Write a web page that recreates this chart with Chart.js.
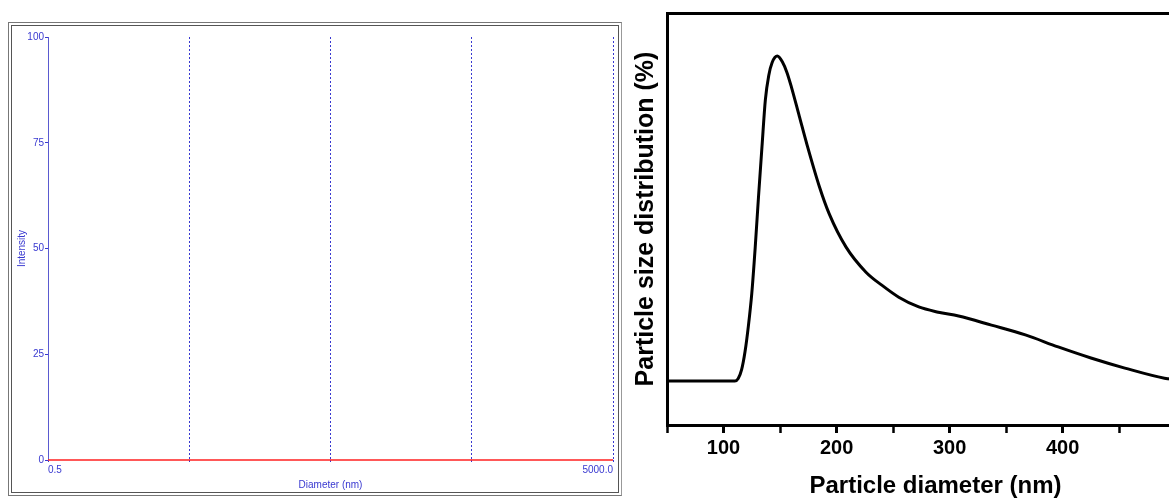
<!DOCTYPE html>
<html>
<head>
<meta charset="utf-8">
<script src="https://cdn.jsdelivr.net/npm/chart.js@4/dist/chart.umd.min.js"></script>
<style>
  body { margin: 0; width: 1169px; height: 501px; overflow: hidden; background: #fff; position: relative; }
  #frameOuter { position: absolute; left: 8px; top: 22px; width: 612px; height: 472px; border: 1px solid #777; border-right-color: #999; }
  #frameInner { position: absolute; left: 11px; top: 25px; width: 606px; height: 466px; border: 1px solid #555; }
  #left { position: absolute; left: 12px; top: 26px; }
  #right { position: absolute; left: 622px; top: 0px; }
</style>
</head>
<body>
<div id="frameOuter"></div>
<div id="frameInner"></div>
<canvas id="left" width="606" height="466"></canvas>
<canvas id="right" width="585" height="501"></canvas>
<script>
// left panel: empty intensity plot (log diameter axis)
const leftDiameters = [0.5, 5000];
const leftIntensity = [0, 0];
const leftXTicks = [0.5, 5, 50, 500, 5000];
const leftYTicks = [0, 25, 50, 75, 100];

// right panel: particle size distribution curve
const diameters = [50, 80, 100, 110, 113, 116, 119, 122, 125, 128, 131, 134, 137, 140, 143, 147.6,
  152, 156, 160, 167, 174, 184.6, 193.4, 208.4, 226, 240, 255, 272.7, 290, 307.9, 337, 367, 396, 425, 455, 490, 500];
const distribution = [0, 0, 0, 0, 0.8, 3.5, 9, 17, 27, 41, 57, 72, 86.5, 94, 98, 100,
  98.2, 95, 90.5, 81.5, 72.5, 60, 51.5, 41.2, 33.5, 29.5, 25.8, 22.8, 21.2, 20, 17.2, 14.2, 10.5, 7.1, 4.0, 0.9, 0.5];
const rightXTicks = [100, 200, 300, 400];

const blue = '#3838d0';
const smallFont = { family: 'Liberation Sans', size: 10 };

new Chart(document.getElementById('left').getContext('2d'), {
  type: 'line',
  data: {
    datasets: [{
      data: leftDiameters.map((d, i) => ({ x: d, y: leftIntensity[i] })),
      borderColor: '#ff2020',
      borderWidth: 1.5,
      pointRadius: 0,
      clip: false
    }]
  },
  options: {
    responsive: false,
    animation: false,
    layout: { padding: { left: 0, right: 5, top: 11, bottom: 0 } },
    plugins: { legend: { display: false }, tooltip: { enabled: false } },
    scales: {
      x: {
        type: 'logarithmic',
        min: 0.5,
        max: 5000,
        afterBuildTicks: scale => { scale.ticks = leftXTicks.map(v => ({ value: v })); },
        afterFit: scale => { scale.height = 32; },
        grid: { color: blue, lineWidth: 1, tickLength: 3, tickColor: blue, tickBorderDash: [2, 2] },
        border: { display: false, dash: [2, 2] },
        ticks: {
          autoSkip: false,
          maxRotation: 0,
          align: 'inner',
          padding: 1,
          color: blue,
          font: smallFont,
          callback: (v, i, ticks) => i === 0 ? '0.5' : (i === ticks.length - 1 ? '5000.0' : '')
        },
        title: { display: true, text: 'Diameter (nm)', color: blue, font: smallFont, padding: { top: 0, bottom: 1 } }
      },
      y: {
        min: 0,
        max: 100,
        afterBuildTicks: scale => { scale.ticks = leftYTicks.map(v => ({ value: v })); },
        afterFit: scale => { scale.width = 36; },
        grid: { drawOnChartArea: false, tickLength: 3, tickColor: blue },
        border: { color: '#5a5ad0', width: 1 },
        ticks: { color: blue, font: smallFont, padding: 1 },
        title: { display: true, text: 'Intensity', color: blue, font: smallFont, padding: { top: 4, bottom: 0 } }
      }
    }
  }
});

const boldAxisFont = { family: 'Liberation Sans', size: 20, weight: 'bold' };
const boldTitleFont = { family: 'Liberation Sans', size: 24, weight: 'bold' };

new Chart(document.getElementById('right').getContext('2d'), {
  type: 'line',
  data: {
    datasets: [{
      data: diameters.map((d, i) => ({ x: d, y: distribution[i] })),
      borderColor: '#000',
      borderWidth: 3,
      pointRadius: 0,
      cubicInterpolationMode: 'monotone'
    }]
  },
  options: {
    responsive: false,
    animation: false,
    layout: { padding: 0 },
    plugins: { legend: { display: false }, tooltip: { enabled: false } },
    scales: {
      x: {
        type: 'linear',
        min: 50,
        max: 525,
        afterFit: scale => { scale.height = 76; },
        grid: {
          drawOnChartArea: false,
          tickLength: 8,
          tickWidth: ctx => (ctx.tick && rightXTicks.includes(ctx.tick.value)) ? 3 : 2.5,
          tickColor: '#000'
        },
        border: { color: '#000', width: 3 },
        ticks: {
          stepSize: 50,
          autoSkip: false,
          maxRotation: 0,
          color: '#000',
          font: boldAxisFont,
          callback: v => rightXTicks.includes(v) ? String(v) : ''
        },
        title: { display: true, text: 'Particle diameter (nm)', color: '#000', font: boldTitleFont, padding: { top: 0, bottom: 0 } }
      },
      x2: {
        type: 'linear',
        position: 'top',
        min: 50,
        max: 525,
        afterFit: scale => { scale.height = 13; },
        grid: { drawOnChartArea: false, drawTicks: false },
        border: { color: '#000', width: 3 },
        ticks: { display: false }
      },
      y: {
        min: -13.5,
        max: 113.2,
        afterFit: scale => { scale.width = 45; },
        grid: { display: false },
        border: { color: '#000', width: 3 },
        ticks: { display: false },
        title: { display: true, text: 'Particle size distribution (%)', color: '#000', font: { family: 'Liberation Sans', size: 25, weight: 'bold' }, padding: { top: 9, bottom: 0 } }
      }
    }
  }
});
</script>
</body>
</html>
